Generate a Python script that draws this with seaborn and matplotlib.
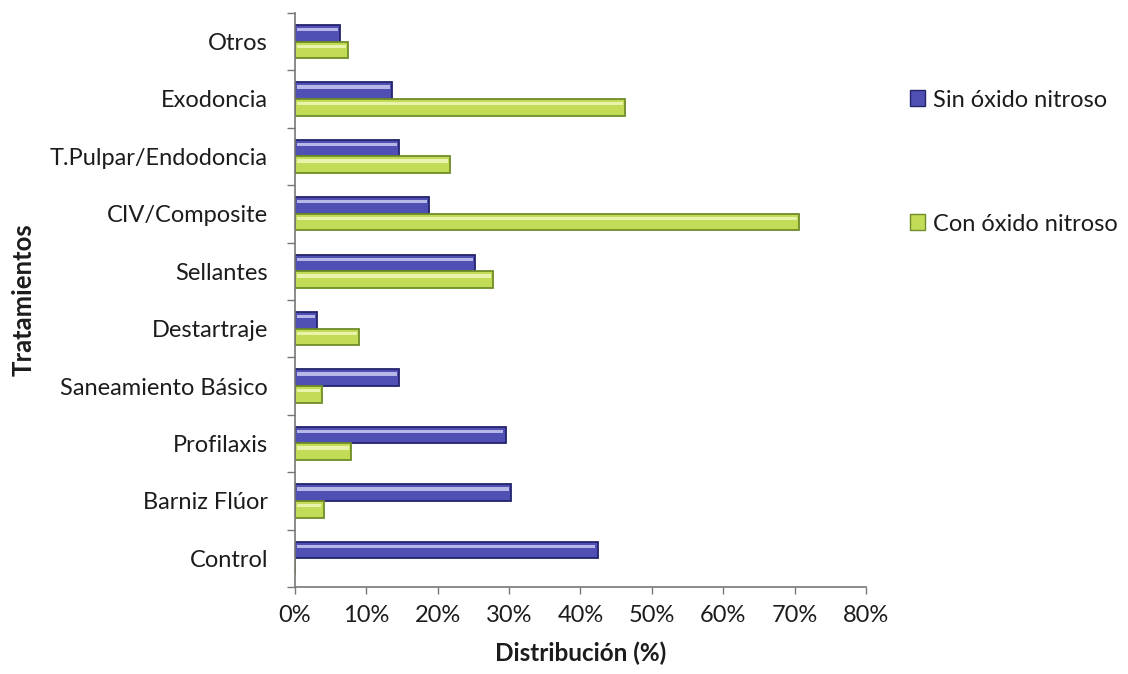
import matplotlib
matplotlib.use("Agg")
import matplotlib.pyplot as plt
from matplotlib.patches import Rectangle
from matplotlib.ticker import FuncFormatter, FixedLocator
import seaborn as sns
import pandas as pd

# Treatments, top to bottom
tratamientos = ["Otros", "Exodoncia", "T.Pulpar/Endodoncia", "CIV/Composite",
                "Sellantes", "Destartraje", "Saneamiento Básico", "Profilaxis",
                "Barniz Flúor", "Control"]
# Percentages per group
sin_oxido = [6.3, 13.6, 14.6, 18.8, 25.2, 3.1, 14.6, 29.5, 30.3, 42.4]
con_oxido = [7.4, 46.2, 21.7, 70.6, 27.7, 9.0, 3.8, 7.9, 4.0, 0.0]
grupos = ["Sin óxido nitroso", "Con óxido nitroso"]
x_ticks = [0, 10, 20, 30, 40, 50, 60, 70, 80]

df = pd.DataFrame({
    "Tratamiento": tratamientos * 2,
    "Grupo": [grupos[0]] * len(tratamientos) + [grupos[1]] * len(tratamientos),
    "Valor": sin_oxido + con_oxido,
})

sns.set_theme(style="white")
plt.rcParams["font.family"] = ["Lato", "DejaVu Sans"]

face = {grupos[0]: "#5050b4", grupos[1]: "#c2dc58"}
edge = {grupos[0]: "#23236c", grupos[1]: "#6f8c28"}
light = {grupos[0]: "#cbcbf2", grupos[1]: "#f0f8bc"}

TXT = "#1c1c1c"
FS = 17

fig = plt.figure(figsize=(11.28, 6.74), dpi=100)
ax = fig.add_axes([0.2615, 0.129, 0.5062, 0.852])

sns.barplot(data=df, y="Tratamiento", x="Valor", hue="Grupo",
            order=tratamientos, hue_order=grupos, palette=face,
            width=0.58, orient="h", ax=ax, legend=False, saturation=1)

# Edge colours and a glossy highlight band on each bar
n = len(tratamientos)
for i, patch in enumerate(ax.patches[:2 * n]):
    g = grupos[i // n]
    patch.set_edgecolor(edge[g])
    patch.set_linewidth(1.3)
    x0, y0 = patch.get_x(), patch.get_y()
    w, h = patch.get_width(), patch.get_height()
    if w <= 0:
        continue
    ax.add_patch(Rectangle((x0 + 0.3, y0 + h * 0.18), max(w - 0.6, 0), h * 0.2,
                           facecolor=light[g], edgecolor="none", alpha=0.85, zorder=3))

ax.set_xlim(0, 80)
ax.set_ylim(n - 0.5, -0.5)
ax.xaxis.set_major_locator(FixedLocator(x_ticks))
ax.xaxis.set_major_formatter(FuncFormatter(lambda v, p: f"{v:.0f}%"))

# Category separators as ticks on the y axis
ax.yaxis.set_minor_locator(FixedLocator([k - 0.5 for k in range(n + 1)]))
ax.tick_params(axis="y", which="major", length=0, pad=19.5, labelsize=FS, labelcolor=TXT)
ax.tick_params(axis="y", which="minor", length=6, width=1, color="#777777", direction="out", left=True)
ax.tick_params(axis="x", which="major", length=5, width=1, color="#777777", direction="out",
               bottom=True, labelsize=FS, labelcolor=TXT, pad=8)

for s in ["top", "right"]:
    ax.spines[s].set_visible(False)
for s in ["left", "bottom"]:
    ax.spines[s].set_color("#777777")
    ax.spines[s].set_linewidth(1.2)

ax.set_xlabel("Distribución (%)", fontsize=17.5, fontweight="bold", color=TXT, labelpad=11)
ax.set_ylabel("")
fig.text(0.021, 0.555, "Tratamientos", rotation=90, ha="center", va="center",
         fontsize=18.5, fontweight="bold", color=TXT)

handles = [Rectangle((0, 0), 1, 1, facecolor=face[g], edgecolor=edge[g], linewidth=1) for g in grupos]
fig.legend(handles, grupos, loc="center left", bbox_to_anchor=(0.788, 0.7596),
           frameon=False, fontsize=FS, handlelength=0.65, handleheight=0.65,
           handletextpad=0.3, labelspacing=4.36, labelcolor=TXT)

fig.savefig("out.png", dpi=100, facecolor="white")
